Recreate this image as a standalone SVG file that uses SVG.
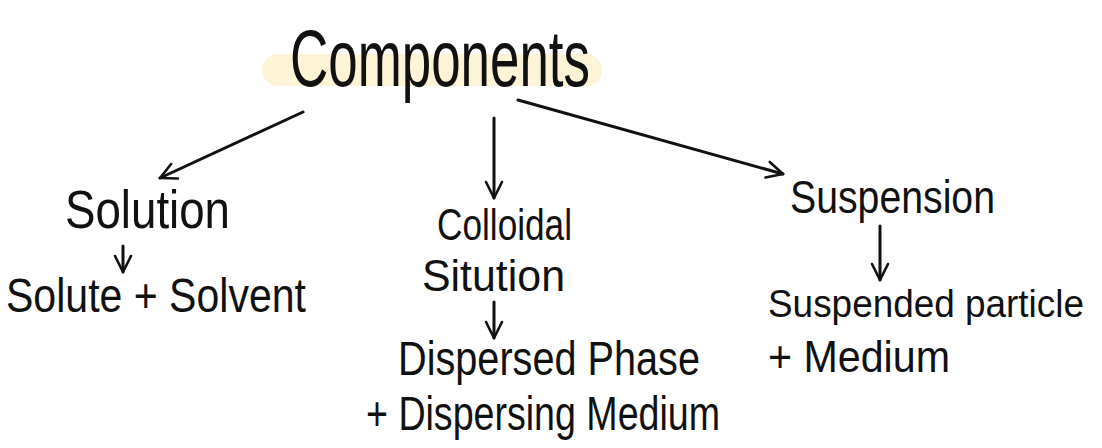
<svg xmlns="http://www.w3.org/2000/svg" width="1102" height="448" viewBox="0 0 1102 448">
<style>
.t{font-family:"Liberation Sans","DejaVu Sans",sans-serif;fill:#111;}
.c{stroke:#111;stroke-width:3;fill:none;stroke-linecap:round;stroke-linejoin:round;}
</style>
<defs>
<marker id="ah" viewBox="0 0 20 20" refX="18" refY="10" markerWidth="20" markerHeight="20" markerUnits="userSpaceOnUse" orient="auto">
<path d="M2,2 L18,10 L2,18" fill="none" stroke="#111" stroke-width="2.6" stroke-linecap="round" stroke-linejoin="round"/>
</marker>
</defs>
<rect width="1102" height="448" fill="#ffffff"/>
<g id="components">
<rect x="262" y="54" width="340" height="32" rx="16" fill="#fdf4d8"/>
<text class="t" x="290" y="86" font-size="80" textLength="300" lengthAdjust="spacingAndGlyphs">Components</text>
</g>
<g id="connectors">
<line class="c" x1="303" y1="112" x2="160" y2="178" marker-end="url(#ah)"/>
<line class="c" x1="494" y1="118" x2="494" y2="198" marker-end="url(#ah)"/>
<line class="c" x1="518" y1="100" x2="783" y2="174" marker-end="url(#ah)"/>
<line class="c" x1="123" y1="246" x2="123" y2="272" marker-end="url(#ah)"/>
<line class="c" x1="494" y1="302" x2="494" y2="338" marker-end="url(#ah)"/>
<line class="c" x1="880" y1="226" x2="880" y2="280" marker-end="url(#ah)"/>
</g>
<g id="solution">
<text class="t" x="65" y="228" font-size="54" textLength="165" lengthAdjust="spacingAndGlyphs">Solution</text>
</g>
<g id="solution-parts">
<text class="t" x="6" y="312" font-size="48" textLength="300" lengthAdjust="spacingAndGlyphs">Solute + Solvent</text>
</g>
<g id="colloidal">
<text class="t" x="437" y="240" font-size="44" textLength="135" lengthAdjust="spacingAndGlyphs">Colloidal</text>
<text class="t" x="422" y="291" font-size="44" textLength="143" lengthAdjust="spacingAndGlyphs">Sitution</text>
</g>
<g id="colloidal-parts">
<text class="t" x="398" y="375" font-size="48" textLength="302" lengthAdjust="spacingAndGlyphs">Dispersed Phase</text>
<text class="t" x="366" y="430" font-size="48" textLength="354" lengthAdjust="spacingAndGlyphs">+ Dispersing Medium</text>
</g>
<g id="suspension">
<text class="t" x="790" y="213" font-size="46" textLength="205" lengthAdjust="spacingAndGlyphs">Suspension</text>
</g>
<g id="suspension-parts">
<text class="t" x="768" y="317" font-size="38" textLength="316" lengthAdjust="spacingAndGlyphs">Suspended particle</text>
<text class="t" x="768" y="372" font-size="44" textLength="182" lengthAdjust="spacingAndGlyphs">+ Medium</text>
</g>
</svg>
